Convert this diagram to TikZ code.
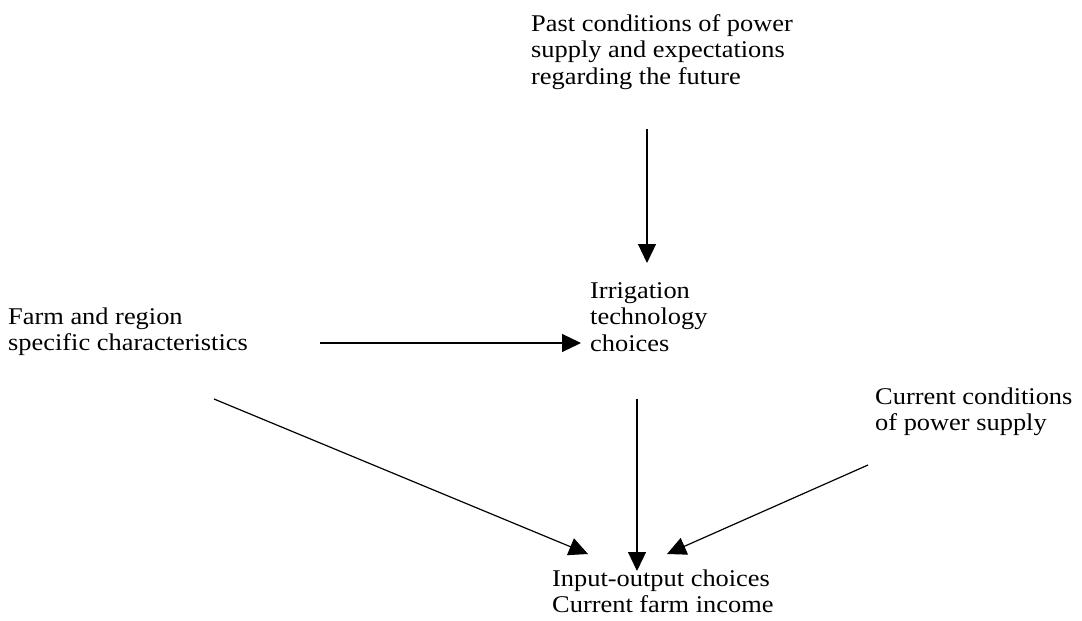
\documentclass[tikz,border=0pt]{standalone}
\usepackage{fontspec}
\setmainfont{Liberation Serif}[FakeStretch=1.1]
\usetikzlibrary{arrows.meta}
\tikzset{
  lbl/.style={anchor=base west, inner sep=0pt, font=\fontsize{24}{26.5}\selectfont},
  arr/.style={line width=1.2pt, -{Triangle[length=19pt,width=18pt]}}
}
\newcommand{\blk}[1]{\begin{tabular}[t]{@{}l@{}}#1\end{tabular}}
\begin{document}
\begin{tikzpicture}[x=1pt,y=-1pt]
\useasboundingbox[fill=white] (0,0) rectangle (1082,621);
\node[lbl] (past) at (531,31) {\blk{Past conditions of power\\supply and expectations\\regarding the future}};
\node[lbl] (irr) at (590,298) {\blk{Irrigation\\technology\\choices}};
\node[lbl] (farm) at (8,324) {\blk{Farm and region\\specific characteristics}};
\node[lbl] (curr) at (875,404) {\blk{Current conditions\\of power supply}};
\node[lbl] (io) at (552,586) {\blk{Input-output choices\\Current farm income}};
\coordinate (a1) at (647,129);
\coordinate (a2) at (647,263);
\coordinate (b1) at (320,343);
\coordinate (b2) at (581,343);
\coordinate (c1) at (637,399);
\coordinate (c2) at (637,571);
\coordinate (d1) at (214,399);
\coordinate (d2) at (588,554);
\coordinate (e1) at (868,465);
\coordinate (e2) at (667,554);
\draw[arr] (a1) -- (a2);
\draw[arr] (b1) -- (b2);
\draw[arr] (c1) -- (c2);
\draw[arr] (d1) -- (d2);
\draw[arr] (e1) -- (e2);
\end{tikzpicture}
\end{document}
